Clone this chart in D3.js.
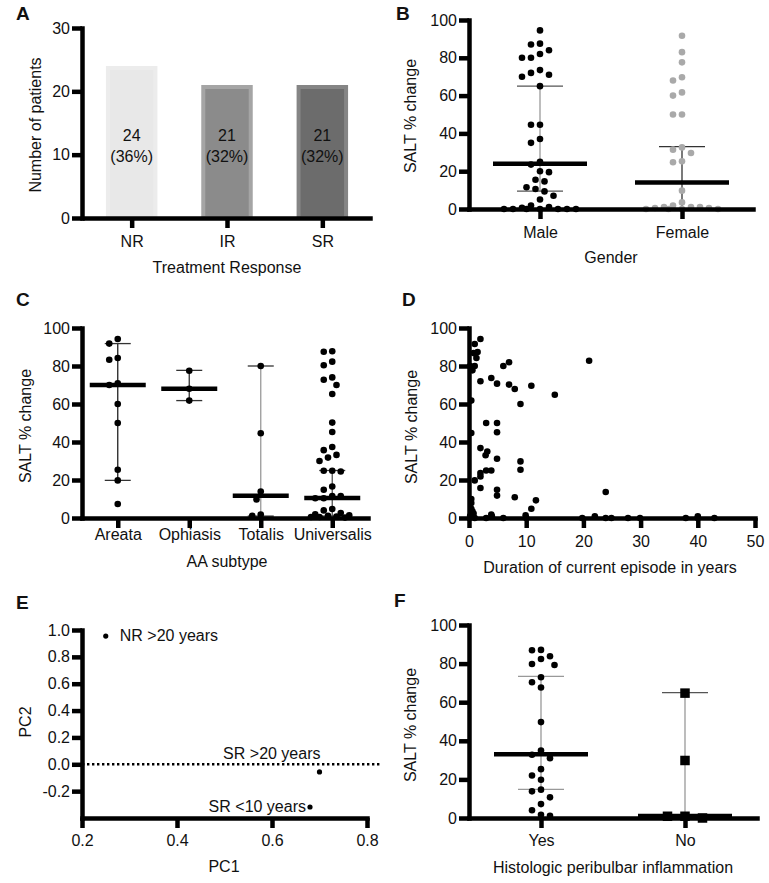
<!DOCTYPE html>
<html>
<head>
<meta charset="utf-8">
<script src="https://cdn.jsdelivr.net/npm/d3@7"></script>
<style>
  body { margin: 0; background: #fff; }
  svg text { font-family: "Liberation Sans", Arial, Helvetica, sans-serif; fill: #111; }
</style>
</head>
<body>
<div id="chart"></div>
<script>
// ---- A: treatment response ----
const responseCats = ['NR', 'IR', 'SR'];
const responseCounts = [24, 21, 21];
const responsePct = ['(36%)', '(32%)', '(32%)'];
const responseTicks = [0, 10, 20, 30];

// ---- B: gender ----
const genderCats = ['Male', 'Female'];
const maleSalt = [94.5, 87, 87.5, 84, 80, 80, 82, 72, 70, 71, 73.5, 65, 44.6, 44.6, 37, 35, 23.5, 25, 20, 19.5,
  14.6, 15.5, 10.6, 9.3, 11.5, 7, 5, 1.8, 0.7, 0, 0, 0, 0, 0, 0, 0, 1];
const femaleSalt = [91.7, 83, 77.6, 68, 69.7, 61.7, 60, 50, 50, 31.4, 29.6, 32.6, 25.2, 24.7, 9.7, 3.5,
  1, 1, 0.5, 0, 0, 0, 0, 0.5, 1, 1.8];
const genderMedian = [24, 14];
const genderLow = [9.5, 0];
const genderHigh = [65, 33];

// ---- C: AA subtype ----
const subtypeCats = ['Areata', 'Ophiasis', 'Totalis', 'Universalis'];
const areataSalt = [94.2, 91.8, 83.3, 84.2, 70.9, 70, 60, 50, 25.4, 19.8, 7.4];
const ophiasisSalt = [77.5, 68, 61.8];
const totalisSalt = [80, 44.6, 13.9, 9.8, 1.2, 1.8];
const universalisSalt = [87.5, 87.8, 82.3, 80.4, 72.8, 70, 74, 65.3, 50.2, 45.3, 35.7, 37.4, 31.8, 30, 33.2,
  24.9, 24.5, 24.9, 16.6, 14.9, 11.6, 11.6, 10.4, 10.4, 4.7, 4, 2.6, 1.2, 0.5, 0.2, 0.5, 0.8, 1.4, 2];
const subtypeMedian = [70, 68, 11.7, 10.5];
const subtypeLow = [19.8, 61.8, 1, 1];
const subtypeHigh = [91.8, 77.7, 80, 25];

// ---- D: duration vs SALT ----
const durationYears = [2, 1, 1.5, 0.8, 1.3, 0.2, 1, 0.6, 2, 3.9, 4.9, 6, 7, 7, 8, 10.9, 15, 21, 9, 0.4,
  3, 4.9, 4.9, 0.4, 2, 3.2, 2.9, 4.9, 9, 9, 2, 2, 3, 3.9, 1, 2, 4.9, 4.9, 8, 11.7,
  10.9, 23.9, 0.4, 0.4, 0.4, 0.6, 0.8, 0.2, 1, 3, 3.9, 4, 6, 9.9, 10, 19.8, 22, 23.9, 24.9, 27.8,
  29.9, 37.9, 40, 40, 42.9];
const durationSalt = [94.2, 91.6, 87.4, 86.8, 84.2, 80, 80, 77.7, 72, 73.7, 70.7, 80, 82, 70.2, 67.9, 69.6, 64.9, 82.8, 60, 61.8,
  50, 50, 45.1, 44.7, 36.8, 35, 33, 31.2, 29.8, 25.4, 23.7, 21.9, 25, 25, 19.8, 15.8, 14.9, 11.8, 10.9, 9.3,
  4.9, 13.7, 10, 7.9, 4.9, 3.5, 2.3, 1, 0, 0, 1.8, 0.9, 0, 1.4, 0, 0, 0.9, 0, 0, 0,
  0, 0, 0.9, 0, 0];
const durationTicks = [0, 10, 20, 30, 40, 50];
const saltTicks = [0, 20, 40, 60, 80, 100];

// ---- E: PCA ----
const pcNames = ['NR >20 years', 'SR >20 years', 'SR <10 years'];
const pc1 = [0.25, 0.70, 0.68];
const pc2 = [0.955, -0.057, -0.318];
const pc1Ticks = [0.2, 0.4, 0.6, 0.8];
const pc1TickLabels = ['0.2', '0.4', '0.6', '0.8'];
const pc2Ticks = [-0.2, 0, 0.2, 0.4, 0.6, 0.8, 1.0];
const pc2TickLabels = ['-0.2', '0.0', '0.2', '0.4', '0.6', '0.8', '1.0'];

// ---- F: peribulbar inflammation ----
const inflamCats = ['Yes', 'No'];
const yesSalt = [83.8, 86.9, 87.1, 82.4, 79.8, 79.3, 72.9, 70.3, 67.6, 49.7, 32.8, 31, 35, 25.3, 22, 19.8,
  13.8, 14.7, 10.7, 7.2, 4, 1.2, 1.7];
const noSalt = [64.7, 29.8, 0.9, 0, 0.9];
const inflamMedian = [33, 1];
const inflamLow = [14.8, 0];
const inflamHigh = [73.4, 65];

// ------------------------------------------------------------
const W = 769, H = 883;
const AXW = 4.5, TICK = 10, FS = 16;
const svg = d3.select('#chart').append('svg').attr('width', W).attr('height', H);
svg.append('rect').attr('width', W).attr('height', H).attr('fill', '#fff');

function panel() {
  const g = svg.append('g');
  return { marks: g.append('g'), axes: g.append('g'), text: g.append('g') };
}

function styleAxis(ax) {
  ax.attr('font-family', null).attr('font-size', null);
  ax.selectAll('path.domain').style('stroke', '#000').style('stroke-width', AXW + 'px').style('stroke-linecap', 'square');
  ax.selectAll('.tick line').style('stroke', '#000').style('stroke-width', AXW + 'px');
  ax.selectAll('text').style('font-size', FS + 'px').style('fill', '#111');
}

function yAxis(p, y, x0, ticks, labels) {
  const a = d3.axisLeft(y).tickValues(ticks).tickSize(TICK).tickSizeOuter(0).tickPadding(2);
  if (labels) a.tickFormat((d, i) => labels[i]);
  const ax = p.axes.append('g').attr('transform', `translate(${x0},0)`).call(a);
  styleAxis(ax);
}

function xAxis(p, x, y0, pad, ticks, labels) {
  const a = d3.axisBottom(x).tickSize(TICK).tickSizeOuter(0).tickPadding(pad);
  if (ticks) a.tickValues(ticks);
  if (labels) a.tickFormat((d, i) => labels[i]);
  const ax = p.axes.append('g').attr('transform', `translate(0,${y0})`).call(a);
  styleAxis(ax);
}

function titles(p, letter, lx, ly, ytitle, yx, ycy, xtitle, xcx, xby) {
  p.text.append('text').attr('x', lx).attr('y', ly).attr('font-size', 19).attr('font-weight', 900).text(letter);
  p.text.append('text').attr('transform', `translate(${yx},${ycy}) rotate(-90)`)
    .attr('text-anchor', 'middle').attr('font-size', FS).text(ytitle);
  p.text.append('text').attr('x', xcx).attr('y', xby).attr('text-anchor', 'middle').attr('font-size', FS).text(xtitle);
}

// greedy beeswarm: spread points sideways so they do not overlap
function swarm(values, y, cx, sep, maxOff) {
  const order = d3.range(values.length).sort((a, b) => values[b] - values[a]);
  const placed = [];
  const out = new Array(values.length);
  const cands = [0];
  for (let k = 1; k * sep / 2 <= maxOff; k++) cands.push(-k * sep / 2, k * sep / 2);
  order.forEach(i => {
    const py = y(values[i]);
    let best = null, bestD = -1;
    for (const off of cands) {
      const px = cx + off;
      const dmin = placed.length ? d3.min(placed, q => Math.hypot(q.x - px, q.y - py)) : Infinity;
      if (dmin >= sep) { best = px; break; }
      if (dmin > bestD) { bestD = dmin; best = px; }
    }
    out[i] = { x: best, y: py, v: values[i] };
    placed.push(out[i]);
  });
  return out;
}

function columnGroup(p, x, y, cat, vals, opt) {
  const cx = x(cat);
  const hi = y(opt.high), lo = y(opt.low), md = y(opt.median);
  p.marks.append('line').attr('x1', cx).attr('x2', cx).attr('y1', hi).attr('y2', lo)
    .attr('stroke', opt.barColor).attr('stroke-width', 1.3);
  [hi, lo].forEach(yy => p.marks.append('line').attr('x1', cx - opt.cap).attr('x2', cx + opt.cap)
    .attr('y1', yy).attr('y2', yy).attr('stroke', opt.capColor).attr('stroke-width', 1.3));
  const pts = swarm(vals, y, cx, opt.sep, opt.maxOff);
  if (opt.square) {
    p.marks.selectAll(null).data(pts).enter().append('rect')
      .attr('x', d => d.x - opt.size / 2).attr('y', d => d.y - opt.size / 2)
      .attr('width', opt.size).attr('height', opt.size).attr('fill', opt.color);
  } else {
    p.marks.selectAll(null).data(pts).enter().append('circle')
      .attr('cx', d => d.x).attr('cy', d => d.y).attr('r', opt.r).attr('fill', opt.color);
  }
  p.marks.append('line').attr('x1', cx - opt.half).attr('x2', cx + opt.half).attr('y1', md).attr('y2', md)
    .attr('stroke', '#000').attr('stroke-width', 4.5);
}

// ---------------- A ----------------
{
  const p = panel();
  const x = d3.scalePoint().domain(responseCats).range([84, 370]).padding(0.5);
  const y = d3.scaleLinear().domain([0, 30]).range([218, 28]);
  const fills = ['#e8e8e8', '#8b8b8b', '#6c6c6c'];
  const edges = ['#ececec', '#a5a5a5', '#858585'];
  const bw = x.step() * 0.54;
  responseCats.forEach((c, i) => {
    const x0 = x(c) - bw / 2, y0 = y(responseCounts[i]);
    p.marks.append('rect').attr('x', x0 + 2).attr('y', y0 + 2).attr('width', bw - 4)
      .attr('height', y(0) - y0 - 2).attr('fill', fills[i]).attr('stroke', edges[i]).attr('stroke-width', 4);
    p.text.append('text').attr('x', x(c)).attr('y', y(12.2)).attr('text-anchor', 'middle')
      .attr('font-size', FS).text(responseCounts[i]);
    p.text.append('text').attr('x', x(c)).attr('y', y(8.8)).attr('text-anchor', 'middle')
      .attr('font-size', FS).text(responsePct[i]);
  });
  yAxis(p, y, 82, responseTicks);
  xAxis(p, x, 218, 8);
  titles(p, 'A', 16, 20, 'Number of patients', 41, 125, 'Treatment Response', 227, 273);
}

// ---------------- B ----------------
{
  const p = panel();
  const x = d3.scalePoint().domain(genderCats).range([469, 753]).padding(0.5);
  const y = d3.scaleLinear().domain([0, 100]).range([209, 20]);
  const sets = [maleSalt, femaleSalt];
  const cols = ['#000', '#a9a9a9'];
  const barCols = ['#9a9a9a', '#333'];
  const capCols = ['#555', '#333'];
  genderCats.forEach((c, i) => columnGroup(p, x, y, c, sets[i], {
    median: genderMedian[i], low: genderLow[i], high: genderHigh[i],
    color: cols[i], barColor: barCols[i], capColor: capCols[i],
    r: 3.3, sep: 9, maxOff: 40, half: 47, cap: 23
  }));
  yAxis(p, y, 469, saltTicks);
  xAxis(p, x, 209, 8);
  titles(p, 'B', 396, 20, 'SALT % change', 416, 116, 'Gender', 611, 263);
}

// ---------------- C ----------------
{
  const p = panel();
  const x = d3.scalePoint().domain(subtypeCats).range([82, 368]).padding(0.5);
  const y = d3.scaleLinear().domain([0, 100]).range([518, 328]);
  const sets = [areataSalt, ophiasisSalt, totalisSalt, universalisSalt];
  const barCols = ['#222', '#333', '#999', '#555'];
  subtypeCats.forEach((c, i) => columnGroup(p, x, y, c, sets[i], {
    median: subtypeMedian[i], low: subtypeLow[i], high: subtypeHigh[i],
    color: '#000', barColor: barCols[i], capColor: '#333',
    r: 3.3, sep: 8.5, maxOff: 22, half: 28, cap: 13
  }));
  yAxis(p, y, 82, saltTicks);
  xAxis(p, x, 518, 1);
  titles(p, 'C', 16, 306, 'SALT % change', 31, 426, 'AA subtype', 227, 567);
}

// ---------------- D ----------------
{
  const p = panel();
  const x = d3.scaleLinear().domain([0, 50]).range([469, 755]);
  const y = d3.scaleLinear().domain([0, 100]).range([518, 328]);
  p.marks.selectAll(null).data(durationYears).enter().append('circle')
    .attr('cx', d => x(d)).attr('cy', (d, i) => y(durationSalt[i])).attr('r', 3.3).attr('fill', '#000');
  yAxis(p, y, 469, saltTicks);
  xAxis(p, x, 518, 8, durationTicks);
  titles(p, 'D', 402, 306, 'SALT % change', 417, 427, 'Duration of current episode in years', 610, 573);
}

// ---------------- E ----------------
{
  const p = panel();
  const x = d3.scaleLinear().domain([0.2, 0.8]).range([82, 367]);
  const y = d3.scaleLinear().domain([-0.4, 1.0]).range([818, 630]);
  p.marks.append('line').attr('x1', x(0.2)).attr('x2', x(0.8) + 13).attr('y1', y(0)).attr('y2', y(0))
    .attr('stroke', '#000').attr('stroke-width', 2.4).attr('stroke-dasharray', '2.4,2.6');
  p.marks.selectAll(null).data(pc1).enter().append('circle')
    .attr('cx', d => x(d)).attr('cy', (d, i) => y(pc2[i])).attr('r', 2.6).attr('fill', '#000');
  // label placement: [dx, dy, anchor]
  const place = [[14, 5, 'start'], [1, -13, 'end'], [-4, 5, 'end']];
  pcNames.forEach((n, i) => p.text.append('text')
    .attr('x', x(pc1[i]) + place[i][0]).attr('y', y(pc2[i]) + place[i][1])
    .attr('text-anchor', place[i][2]).attr('font-size', FS).text(n));
  yAxis(p, y, 82, pc2Ticks, pc2TickLabels);
  xAxis(p, x, 818, 7, pc1Ticks, pc1TickLabels);
  titles(p, 'E', 16, 609, 'PC2', 31, 722, 'PC1', 224, 872);
}

// ---------------- F ----------------
{
  const p = panel();
  const x = d3.scalePoint().domain(inflamCats).range([469, 757]).padding(0.5);
  const y = d3.scaleLinear().domain([0, 100]).range([818, 625]);
  const sets = [yesSalt, noSalt];
  inflamCats.forEach((c, i) => columnGroup(p, x, y, c, sets[i], {
    median: inflamMedian[i], low: inflamLow[i], high: inflamHigh[i],
    color: '#000', barColor: '#999', capColor: i ? '#555' : '#999',
    square: i === 1, size: 9.5, r: 3.3, sep: i ? 17.5 : 9, maxOff: 40, half: 47, cap: 23
  }));
  yAxis(p, y, 469, saltTicks);
  xAxis(p, x, 818, 7);
  titles(p, 'F', 394, 607, 'SALT % change', 416, 725, 'Histologic peribulbar inflammation', 613, 873);
}
</script>
</body>
</html>
